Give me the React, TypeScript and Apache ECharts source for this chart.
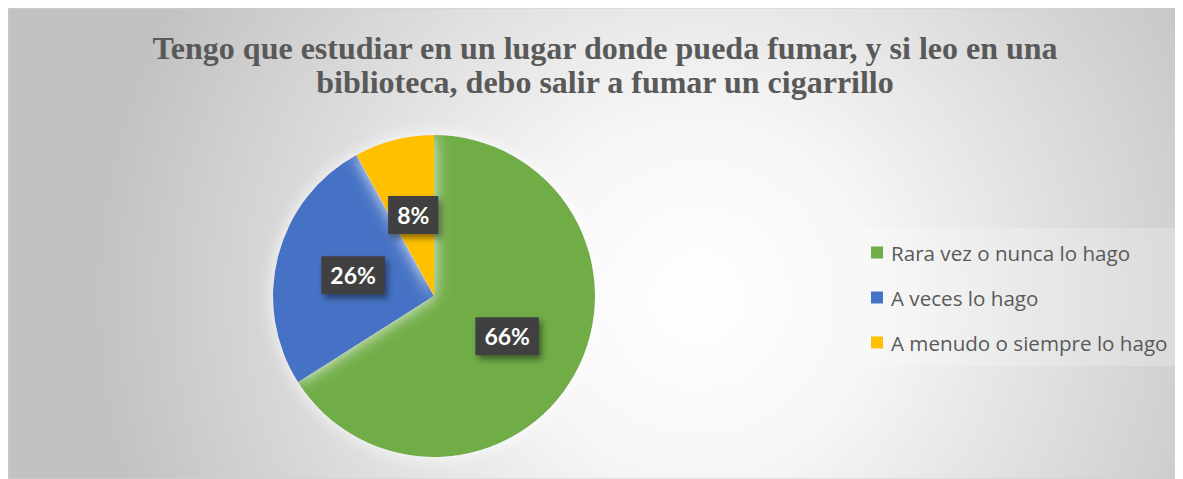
import React, { useEffect, useRef } from "react";
import * as echarts from "echarts";

const titleLines = [
  "Tengo que estudiar en un lugar donde pueda fumar, y si leo en una",
  "biblioteca, debo salir a fumar un cigarrillo",
];
const categories = ["Rara vez o nunca lo hago", "A veces lo hago", "A menudo o siempre lo hago"];
const values = [66, 26, 8];
const colors = ["#70AD47", "#4472C4", "#FFC000"];

const W = 1175;
const H = 471;

export default function App() {
  const ref = useRef<HTMLDivElement>(null);
  useEffect(() => {
    if (!ref.current) return;
    const chart = echarts.init(ref.current, null, { renderer: "svg" });
    chart.setOption({
      animation: false,
      graphic: [
        {
          type: "rect",
          z: -10,
          silent: true,
          shape: { x: 0, y: 0, width: W, height: H },
          style: {
            fill: new echarts.graphic.RadialGradient(
              690,
              290,
              600,
              [
                { offset: 0, color: "#ffffff" },
                { offset: 0.3, color: "#f6f6f6" },
                { offset: 1, color: "#c2c2c2" },
              ],
              true
            ),
            stroke: "#d0d0d0",
            lineWidth: 1,
          },
        },
      ],
      title: {
        text: titleLines.join("\n"),
        left: 592,
        top: 18,
        textAlign: "center",
        textStyle: {
          fontFamily: "Liberation Serif",
          fontWeight: "bold",
          fontSize: 32,
          lineHeight: 34,
          color: "#595959",
        },
      },
      legend: {
        orient: "vertical",
        left: 849,
        top: 220,
        padding: [14, 12, 13, 14],
        backgroundColor: "rgba(255,255,255,0.22)",
        itemWidth: 12,
        itemHeight: 12,
        itemGap: 24,
        icon: "rect",
        data: categories,
        textStyle: {
          fontFamily: "Open Sans",
          fontSize: 20.6,
          lineHeight: 20,
          color: "#595959",
          padding: [0, 0, 0, 3],
        },
      },
      series: [
        {
          type: "pie",
          center: [426, 288],
          radius: [0, 161],
          startAngle: 90,
          clockwise: true,
          percentPrecision: 0,
          itemStyle: {
            shadowBlur: 16,
            shadowColor: "rgba(255,255,255,0.9)",
          },
          label: {
            show: true,
            position: "inside",
            formatter: "{d}%",
            color: "#ffffff",
            fontFamily: "Lato",
            fontWeight: "bold",
            fontSize: 23,
            backgroundColor: "#3f3f3f",
            padding: [8, 9, 7, 9],
            shadowColor: "rgba(0,0,0,0.45)",
            shadowBlur: 6,
            shadowOffsetX: 3,
            shadowOffsetY: 4,
          },
          labelLine: { show: false },
          emphasis: { disabled: true },
          data: categories.map((name, i) => ({
            name,
            value: values[i],
            itemStyle: { color: colors[i] },
          })),
        },
      ],
    });
    return () => chart.dispose();
  }, []);
  return <div ref={ref} style={{ width: W, height: H }} />;
}
